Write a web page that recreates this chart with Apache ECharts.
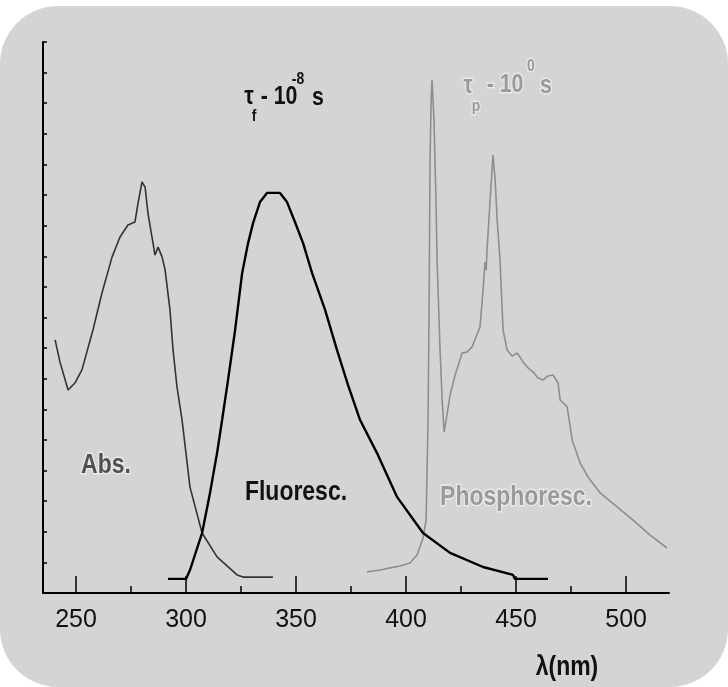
<!DOCTYPE html>
<html><head><meta charset="utf-8">
<script src="https://cdn.jsdelivr.net/npm/echarts@6/dist/echarts.min.js"></script>
<style>
html,body{margin:0;padding:0;background:#fff;}
#bg{position:absolute;left:0;top:6px;width:728px;height:681px;background:#d4d4d4;border-radius:58px;}
#chart{position:absolute;left:0;top:0;width:728px;height:687px;}
</style></head><body>
<div id="bg"></div><div id="chart"></div>
<script>
const majorTicks = [250, 300, 350, 400, 450, 500];
const minorTicks = [275, 325, 375, 425, 475];

const absNm  = [240.5,242.7,246.4,249.5,252.7,257.7,261.8,266.4,270.0,273.6,276.8,278.2,280.0,281.4,282.7,285.0,285.9,287.3,289.1,290.5,292.7,294.1,295.9,298.2,301.8,307.3,314.1,323.2,325.9,339.5];
const absInt = [8.27,7.55,6.63,6.86,7.29,8.59,9.80,10.98,11.63,12.02,12.12,12.74,13.43,13.26,12.41,11.43,11.04,11.30,10.98,10.55,9.25,7.94,6.73,5.65,3.46,1.96,1.18,0.59,0.52,0.52];

const fluoNm  = [291.8,300.0,301.8,307.3,310.9,314.1,316.4,319.1,322.3,325.5,328.2,330.5,333.6,336.8,342.7,345.9,349.5,353.2,357.3,363.2,368.6,373.6,379.1,386.8,395.9,407.7,420.0,435.0,448.6,449.5,464.5];
const fluoInt = [0.46,0.46,0.75,1.96,3.27,4.57,5.65,6.96,8.59,10.45,11.43,12.09,12.77,13.07,13.07,12.77,12.12,11.43,10.45,9.25,7.94,6.80,5.65,4.57,3.14,1.96,1.31,0.85,0.59,0.46,0.46];

const phosNm  = [382.3,388.2,392.7,397.3,401.8,405.0,407.7,409.1,410.0,410.5,410.9,411.4,411.8,412.7,413.6,414.1,415.0,415.5,416.4,417.3,418.6,420.0,422.3,425.5,427.7,430.0,433.6,435.0,435.9,436.4,436.8,438.2,439.5,440.5,441.4,442.7,444.1,445.9,448.2,450.5,453.2,455.5,458.2,460.0,462.3,464.5,466.8,469.1,470.0,473.2,475.5,479.1,482.7,488.2,495.9,503.2,510.9,518.6];
const phosInt = [0.69,0.75,0.82,0.88,0.98,1.24,1.80,2.38,5.65,9.57,14.15,16.11,16.76,15.45,12.84,10.88,8.92,7.84,6.31,5.26,5.82,6.47,7.12,7.84,7.87,8.04,8.69,9.90,10.81,10.55,11.21,12.84,14.31,13.49,12.19,10.88,8.59,7.94,7.74,7.84,7.55,7.35,7.19,7.02,6.96,7.09,7.12,6.86,6.31,6.08,5.00,4.25,3.79,3.27,2.81,2.38,1.89,1.47];

const zip = (a, b) => a.map((x, i) => [x, b[i]]);
const FONT = "'Liberation Sans', Arial, sans-serif";

// narrow bold text helper (Arial-Narrow look via horizontal scale)
function label(text, x, y, size, fill, halo) {
  const style = {text: text, font: 'bold ' + size + 'px ' + FONT, fill: fill, align: 'center', verticalAlign: 'middle'};
  if (halo) { style.stroke = 'rgba(255,255,255,0.5)'; style.lineWidth = 3; }
  return {type: 'text', x: x, y: y, scaleX: 0.82, style: style, z: 100};
}

const chart = echarts.init(document.getElementById('chart'), null, {renderer: 'canvas'});
const axisBase = {type: 'value', min: 235, max: 519.5, splitLine: {show: false}};
chart.setOption({
  animation: false,
  backgroundColor: 'transparent',
  grid: {left: 43, right: 59, top: 42, bottom: 94, containLabel: false},
  xAxis: [
    Object.assign({}, axisBase, {
      position: 'bottom',
      axisLine: {show: true, onZero: false, lineStyle: {color: '#000', width: 2}},
      axisTick: {show: true, inside: true, length: 17, customValues: majorTicks, lineStyle: {color: '#000', width: 1.5}},
      axisLabel: {show: true, customValues: majorTicks, margin: 15, fontSize: 25, fontFamily: FONT, color: '#111'}
    }),
    Object.assign({}, axisBase, {
      position: 'bottom',
      axisLine: {show: false},
      axisTick: {show: true, inside: true, length: 7, customValues: minorTicks, lineStyle: {color: '#000', width: 1.5}},
      axisLabel: {show: false}
    })
  ],
  yAxis: {
    type: 'value', min: 0, max: 18, interval: 1,
    axisLine: {show: true, lineStyle: {color: '#000', width: 2}},
    axisTick: {show: true, inside: true, length: 4, lineStyle: {color: '#000', width: 1.5}},
    axisLabel: {show: false},
    splitLine: {show: false}
  },
  series: [
    {type: 'line', data: zip(phosNm, phosInt), showSymbol: false, lineStyle: {color: '#8e8e8e', width: 1.6}, z: 2},
    {type: 'line', data: zip(absNm, absInt), showSymbol: false, lineStyle: {color: '#333', width: 1.6}, z: 3},
    {type: 'line', data: zip(fluoNm, fluoInt), showSymbol: false, lineStyle: {color: '#000', width: 2.4}, z: 4}
  ],
  graphic: [
    label('Abs.', 106, 465, 28, '#505050', true),
    label('Fluoresc.', 296, 492, 28, '#111', false),
    label('Phosphoresc.', 516, 497, 28, '#9a9a9a', true),
    // tau_f - 10^-8 s
    label('τ', 249, 97, 26, '#111', false),
    label('f', 254, 116, 17, '#111', false),
    label('- 10', 279, 97, 26, '#111', false),
    label('-8', 298, 79, 17, '#111', false),
    label('s', 318, 98, 26, '#111', false),
    // tau_p - 10^0 s
    label('τ', 468, 86, 26, '#9a9a9a', true),
    label('p', 476, 106, 17, '#9a9a9a', true),
    label('- 10', 505, 85, 26, '#9a9a9a', true),
    label('0', 531, 66, 17, '#9a9a9a', true),
    label('s', 546, 86, 26, '#9a9a9a', true),
    // axis name
    label('λ(nm)', 567, 667, 28, '#111', false)
  ]
});
</script>
</body></html>
